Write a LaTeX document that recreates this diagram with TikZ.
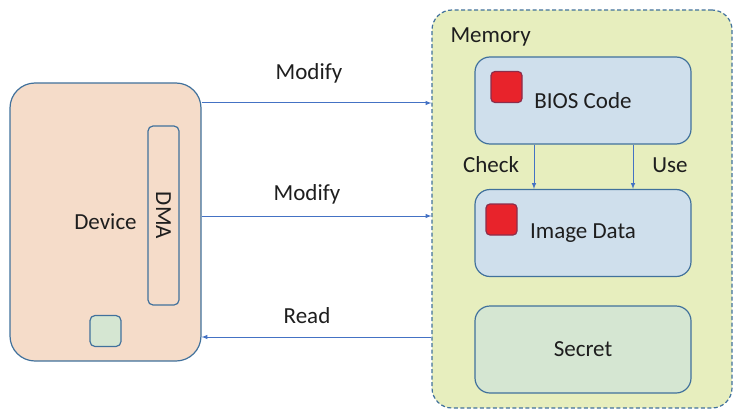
\documentclass[tikz,border=0pt]{standalone}
\usepackage{fontspec}
\setmainfont{Carlito}
\usepackage{xcolor}
\usepackage{tikz}
\definecolor{edgeblue}{RGB}{65,113,156}
\definecolor{arrowblue}{RGB}{68,114,196}
\definecolor{devfill}{RGB}{245,220,201}
\definecolor{memfill}{RGB}{231,238,190}
\definecolor{boxfill}{RGB}{207,223,236}
\definecolor{secfill}{RGB}{213,230,210}
\definecolor{flagred}{RGB}{232,35,43}
\definecolor{flagedge}{RGB}{140,45,75}
\definecolor{txt}{RGB}{30,30,30}

\begin{document}
\begin{tikzpicture}[x=1pt,y=-1pt,>=latex,font=\fontsize{23}{27}\selectfont,text=txt]
\tikzstyle{part}=[rectangle,draw=edgeblue,line width=1.2pt,inner sep=0pt]
\tikzstyle{region}=[part,fill=boxfill,rounded corners=15pt,minimum width=216pt,minimum height=87pt]
\tikzstyle{flag}=[part,draw=flagedge,fill=flagred,rounded corners=4pt,minimum size=31pt]
\tikzstyle{link}=[->,draw=arrowblue,line width=1pt]
\useasboundingbox (0,0) rectangle (743,417);
% device side
\node[part,fill=devfill,rounded corners=25pt,minimum width=191pt,minimum height=278pt] (device) at (105.5,222) {Device};
\node[part,fill=devfill,rounded corners=5pt,rotate=-90,minimum width=179pt,minimum height=31pt] (dma) at (163.5,215.5) {DMA};
\node[part,fill=secfill,rounded corners=5pt,minimum size=31pt] (port) at (105.5,331) {};
% memory side
\node[part,fill=memfill,dash pattern=on 4pt off 2.5pt,rounded corners=20pt,minimum width=300pt,minimum height=398pt] (memory) at (582,209) {};
\node[anchor=base west] (memlabel) at (447,43) {Memory};
\node[region] (bios) at (583,100.5) {BIOS Code};
\node[region] (image) at (583,233) {Image Data};
\node[region,fill=secfill] (secret) at (583,349.5) {Secret};
\node[flag] (biosflag) at (506.5,87) {};
\node[flag] (imgflag) at (501.5,219.5) {};
% accesses
\coordinate (rowa) at (0,103);
\coordinate (rowb) at (0,216);
\coordinate (rowc) at (0,337);
\draw[link] (device.east |- rowa) -- (memory.west |- rowa);
\draw[link] (device.east |- rowb) -- (memory.west |- rowb);
\draw[link] (memory.west |- rowc) -- (device.east |- rowc);
\node[anchor=base] (moda) at (309,80) {Modify};
\node[anchor=base] (modb) at (307,200.5) {Modify};
\node[anchor=base] (read) at (307,323) {Read};
\draw[link] ([xshift=-49pt]bios.south) -- ([xshift=-49pt]image.north);
\draw[link] ([xshift=50pt]bios.south) -- ([xshift=50pt]image.north);
\node[anchor=base] (check) at (491,172.5) {Check};
\node[anchor=base] (use) at (670,172.5) {Use};
\end{tikzpicture}
\end{document}
